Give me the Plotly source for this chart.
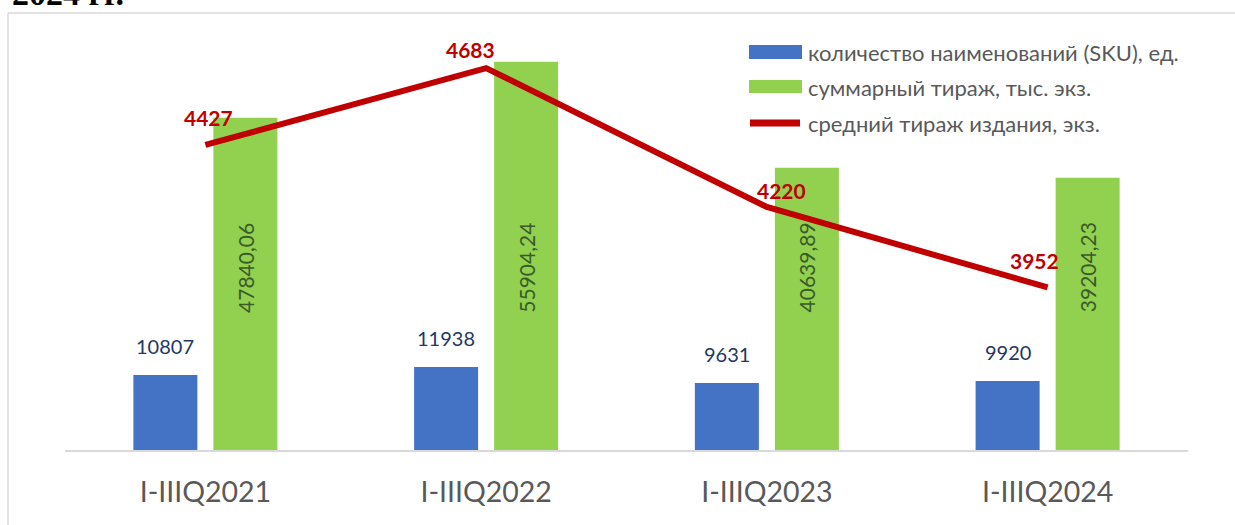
import plotly.graph_objects as go

# ---- data ----
categories = ["I-IIIQ2021", "I-IIIQ2022", "I-IIIQ2023", "I-IIIQ2024"]
sku_count = [10807, 11938, 9631, 9920]
total_print = [47840.06, 55904.24, 40639.89, 39204.23]
total_print_labels = ["47840,06", "55904,24", "40639,89", "39204,23"]
avg_print = [4427, 4683, 4220, 3952]
series_names = ["количество наименований (SKU), ед.",
                "суммарный тираж, тыс. экз.",
                "средний тираж издания, экз."]
title_fragment = "2024 гг."

# ---- style ----
BLUE = "#4472C4"
GREEN = "#92D050"
RED = "#C00000"
GRAY = "#595959"
FONT = "Lato"

W, H = 1235, 525
L, R, T, B = 65, 1188, 20, 450   # plot area in pixels
PW, PH = R - L, B - T

def pxx(p):
    return (p - L) / PW

def pxy(p):
    return (B - p) / PH

fig = go.Figure()
fig.add_trace(go.Bar(x=categories, y=sku_count, name=series_names[0],
                     marker=dict(color=BLUE, line=dict(width=0)),
                     showlegend=False))
fig.add_trace(go.Bar(x=categories, y=total_print, name=series_names[1],
                     marker=dict(color=GREEN, line=dict(width=0)),
                     showlegend=False))
fig.add_trace(go.Scatter(x=categories, y=avg_print, name=series_names[2],
                         yaxis="y2", mode="lines",
                         line=dict(color=RED, width=6),
                         showlegend=False, cliponaxis=False))

ann = []
# blue bar labels
for c, v in zip(categories, sku_count):
    ann.append(dict(x=c, y=v, xref="x", yref="y", text=str(v), showarrow=False,
                    xshift=-40, yshift=15, yanchor="bottom",
                    font=dict(family=FONT, size=20, color="#1F3864")))
# green bar labels (rotated, inside, at a common height)
green_label_y = 0.67 * min(total_print)
for c, t in zip(categories, total_print_labels):
    ann.append(dict(x=c, y=green_label_y, xref="x", yref="y", text=t, showarrow=False,
                    xshift=40, textangle=-90,
                    font=dict(family=FONT, size=21, color="#3A5A28")))
# line labels
line_label_shift = [(3, 27), (-16, 19), (15, 17), (-13, 27)]
for c, v, (dx, dy) in zip(categories, avg_print, line_label_shift):
    ann.append(dict(x=c, y=v, xref="x", yref="y2", text="<b>%d</b>" % v,
                    showarrow=False, xshift=dx, yshift=dy,
                    font=dict(family=FONT, size=21, color=RED)))

# custom legend
shapes = []
leg_rows = [52, 87, 123]
shapes.append(dict(type="rect", xref="paper", yref="paper",
                   x0=pxx(749), x1=pxx(802), y0=pxy(59), y1=pxy(45),
                   fillcolor=BLUE, line=dict(width=0)))
shapes.append(dict(type="rect", xref="paper", yref="paper",
                   x0=pxx(749), x1=pxx(802), y0=pxy(93), y1=pxy(80),
                   fillcolor=GREEN, line=dict(width=0)))
shapes.append(dict(type="line", xref="paper", yref="paper",
                   x0=pxx(750), x1=pxx(800), y0=pxy(123), y1=pxy(123),
                   line=dict(color=RED, width=7)))
for name, row in zip(series_names, leg_rows):
    ann.append(dict(x=pxx(806), y=pxy(row), xref="paper", yref="paper",
                    text=name, showarrow=False, xanchor="left", yanchor="middle",
                    font=dict(family=FONT, size=22, color=GRAY)))

# chart border (left and top visible)
shapes.append(dict(type="line", xref="paper", yref="paper",
                   x0=pxx(8), x1=pxx(8), y0=pxy(13), y1=pxy(530),
                   line=dict(color="#D9D9D9", width=1.5)))
shapes.append(dict(type="line", xref="paper", yref="paper",
                   x0=pxx(8), x1=pxx(1240), y0=pxy(13), y1=pxy(13),
                   line=dict(color="#D9D9D9", width=1.5)))

# cut-off title fragment at the very top
ann.append(dict(x=pxx(10), y=pxy(14), xref="paper", yref="paper",
                text="<b>%s</b>" % title_fragment, showarrow=False,
                xanchor="left", yanchor="bottom",
                font=dict(family="Liberation Serif", size=34, color="black")))

fig.update_layout(
    width=W, height=H,
    margin=dict(l=L, r=W - R, t=T, b=H - B),
    paper_bgcolor="white", plot_bgcolor="white",
    barmode="group", bargap=0.43, bargroupgap=0.2,
    showlegend=False,
    xaxis=dict(showline=True, linecolor="#D9D9D9", linewidth=2,
               ticks="", showgrid=False, zeroline=False,
               tickfont=dict(family=FONT, size=28.5, color=GRAY),
               ticklabelstandoff=16),
    yaxis=dict(visible=False, range=[0, PH * 144], showgrid=False, zeroline=False),
    yaxis2=dict(visible=False, overlaying="y", side="right",
                range=[3410, 3410 + PH / 0.3], showgrid=False, zeroline=False),
    annotations=ann, shapes=shapes,
)

fig.write_html("out.html", config={"displayModeBar": False},
               post_script="document.body.style.margin='0px';"
                           "document.body.style.overflow='hidden';")
